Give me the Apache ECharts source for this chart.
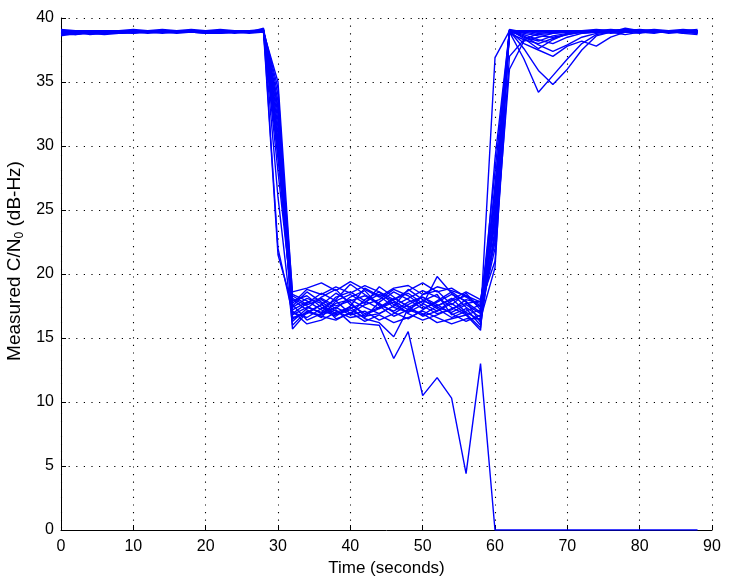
<!DOCTYPE html>
<html>
<head>
<meta charset="utf-8">
<script src="https://cdn.jsdelivr.net/npm/echarts@6/dist/echarts.min.js"></script>
<style>
html,body{margin:0;padding:0;background:#fff;}
#chart{width:745px;height:586px;}
</style>
</head>
<body>
<div id="chart"></div>
<script>
// Time samples (seconds)
const times = [0,2,4,6,8,10,12,14,16,18,20,22,24,26,28,30,32,34,36,38,40,42,44,46,48,50,52,54,56,58,60,62,64,66,68,70,72,74,76,78,80,82,84,86,88];

// Measured C/N0 traces (dB-Hz)
const trace1 = [38.9,38.9,39.0,38.9,39.0,39.0,38.9,39.0,38.9,39.0,38.9,38.9,39.0,38.9,39.1, 34.0, 17.2,17.8,18.1,17.5,17.9,18.3,17.6,17.1,17.8,18.2,17.4,17.0,17.6,16.9, 24.0, 39.0,39.0,38.9,39.0,38.9,39.0,39.0,38.9,39.1,39.0,38.9,39.0,38.9,38.9];
const trace2 = [38.8,38.8,38.8,38.9,38.9,38.9,38.9,39.0,38.9,38.9,39.0,38.9,38.9,38.9,39.0, 33.0, 16.8,17.4,17.0,18.2,18.6,17.9,17.3,18.0,18.5,17.7,17.1,17.9,18.3,17.5, 26.0, 39.1,38.4,37.6,38.3,38.8,38.9,39.0,39.0,38.9,39.0,39.1,39.0,38.9,39.0];
const trace3 = [39.0,38.9,38.7,38.8,38.9,38.9,39.0,39.0,39.0,38.9,38.8,38.9,38.9,39.0,39.0, 32.0, 15.7,17.0,17.6,16.9,17.3,17.8,18.4,17.9,17.2,16.8,17.5,18.1,17.0,16.4, 23.0, 38.9,36.8,34.2,35.5,36.8,38.0,38.7,38.9,39.0,38.9,39.0,38.8,38.9,38.8];
const trace4 = [38.7,38.7,38.9,38.9,38.8,38.9,38.9,39.0,39.0,39.0,38.9,38.9,38.8,38.9,38.9, 31.0, 17.9,18.3,17.4,16.8,17.2,16.6,17.8,18.6,18.0,17.3,17.8,18.4,17.9,16.2, 25.0, 39.0,37.6,35.9,34.8,36.0,37.5,38.6,38.9,39.0,39.0,38.9,39.0,39.0,39.1];
const trace5 = [39.0,39.0,38.9,38.8,38.9,39.0,39.0,39.1,39.0,39.0,39.0,39.0,38.9,38.9,39.2, 30.0, 18.1,17.5,16.9,17.7,18.0,17.4,16.9,17.5,18.1,18.7,18.2,17.4,16.8,17.2, 28.0, 39.0,38.0,37.5,37.0,37.8,38.2,37.8,38.5,38.9,39.0,38.9,39.0,38.8,38.7];
const trace6 = [38.9,38.8,38.9,39.0,38.9,38.8,39.0,38.9,39.0,39.1,39.0,38.9,39.0,39.0,39.0, 29.5, 17.0,16.6,17.3,18.0,19.2,18.4,17.7,17.0,16.5,17.2,17.9,18.6,17.8,17.0, 22.0, 36.0,38.2,38.5,38.8,38.9,39.0,39.0,38.9,39.2,39.0,39.0,38.9,39.0,38.9];
const trace7 = [38.6,38.8,38.9,38.9,39.0,38.9,38.9,38.9,39.0,38.9,38.9,39.0,38.9,38.8,38.9, 35.0, 18.4,17.9,17.2,16.7,17.5,18.9,18.3,17.4,17.0,17.6,19.8,18.5,17.4,16.6, 36.9, 39.0,38.7,38.3,38.0,38.5,38.8,38.9,39.0,39.1,39.0,38.9,39.0,39.1,39.0];
const trace8 = [39.1,39.0,39.0,38.9,38.8,38.9,38.9,38.8,38.9,39.0,39.0,39.0,39.0,38.9,39.0, 34.5, 16.3,17.3,18.2,18.8,17.6,16.9,17.4,18.1,17.5,16.7,17.1,17.7,16.9,15.8, 27.0, 38.8,38.9,39.0,38.9,39.0,38.8,38.9,39.0,39.0,39.1,39.0,38.9,38.9,39.0];
const trace9 = [38.8,38.9,38.8,38.7,38.8,38.9,38.9,39.0,39.0,38.9,38.9,38.9,39.0,39.0,39.0, 28.0, 17.6,16.4,16.9,17.4,16.8,17.1,16.4,16.9,17.6,18.2,17.6,16.9,16.3,16.8, 24.5, 39.0,38.8,38.6,38.5,38.7,38.9,39.0,38.8,38.9,39.0,39.0,38.9,39.0,38.9];
const trace10 = [39.0,38.9,38.9,39.0,39.0,39.1,39.0,38.9,38.9,38.9,38.9,38.9,38.9,39.0,39.1, 22.0, 16.9,17.7,18.5,17.9,16.9,17.6,18.0,18.8,18.3,17.5,16.9,17.2,18.0,17.7, 21.0, 37.0,38.3,38.8,38.9,39.0,39.0,39.1,39.0,38.9,38.8,39.0,39.0,38.9,39.0];
const trace11 = [38.9,38.7,38.8,38.9,38.9,39.0,38.9,38.9,38.9,38.9,39.0,39.1,39.0,38.9,38.9, 21.5, 17.5,18.6,17.8,17.1,16.6,16.8,17.3,17.8,16.9,16.4,16.8,17.3,17.7,17.9, 25.5, 39.0,38.6,37.9,37.4,37.9,38.5,38.8,38.9,39.0,39.0,39.0,38.9,38.9,38.8];
const trace12 = [38.9,38.9,38.9,38.9,39.0,38.9,38.8,38.9,39.0,39.0,39.0,38.9,39.0,39.0,39.0, 31.5, 18.0,17.2,16.6,17.9,18.4,17.7,19.0,18.2,17.4,17.9,18.4,16.8,17.3,16.0, 23.5, 38.9,39.0,38.8,38.9,39.0,39.0,38.9,39.0,39.0,39.0,38.9,39.0,39.0,39.0];
const trace13 = [38.7,38.8,38.9,38.8,38.9,38.9,39.0,38.9,38.9,38.9,38.8,38.8,38.9,38.9,39.0, 33.5, 16.6,16.9,17.6,18.5,17.8,16.7,16.9,17.5,18.8,18.0,17.3,16.6,17.1,17.6, 26.5, 39.1,38.9,39.0,39.0,38.9,38.9,39.0,38.9,38.7,38.9,39.0,39.0,38.8,38.9];
const trace14 = [39.0,39.0,39.0,39.0,38.9,38.9,38.9,38.9,38.8,38.9,38.9,38.9,38.9,38.9,39.0, 30.5, 17.4,18.1,17.7,16.5,16.9,18.0,18.6,17.6,17.0,18.4,18.7,17.6,18.5,17.2, 22.5, 38.8,38.3,38.0,38.4,38.7,38.9,38.9,39.0,39.0,39.0,39.0,38.9,39.0,38.9];
const trace15 = [38.9,38.9,38.8,38.8,38.8,38.9,39.0,39.0,38.9,39.0,39.0,39.0,38.9,38.9,38.9, 32.5, 17.1,16.1,16.4,17.0,17.4,16.5,16.2,15.1,17.3,16.9,16.2,16.5,16.8,15.6, 29.0, 39.0,38.9,38.7,38.8,38.9,39.0,39.0,39.1,39.0,38.9,38.8,39.0,39.0,38.8];
const trace16 = [38.8,38.8,38.9,39.0,39.0,39.0,38.9,38.9,38.9,38.9,38.9,39.0,38.9,39.0,39.0, 29.0, 18.3,17.6,18.0,17.3,18.2,18.7,17.5,16.7,17.2,17.9,17.5,18.0,18.6,18.0, 24.0, 39.0,38.5,38.2,38.6,38.8,38.9,39.0,39.0,38.9,39.0,39.0,39.0,38.9,39.0];
const trace17 = [39.0,38.9,38.9,38.8,38.9,38.9,38.9,39.0,39.0,39.0,38.9,38.8,38.9,38.9,38.9, 26.0, 16.0,17.1,16.7,16.4,17.0,16.3,16.8,16.2,16.6,17.1,16.6,16.1,16.5,16.5, 20.5, 38.9,39.0,39.0,38.9,38.9,39.0,38.9,38.9,39.0,39.0,39.0,39.0,39.0,38.9];
const trace18 = [38.9,39.0,38.9,38.9,38.9,38.8,38.9,38.9,39.0,39.0,38.9,38.9,38.9,39.0,39.0, 30.0, 16.5,17.0,16.8,17.2,16.2,16.1,16.0,13.4,15.5,10.5,11.9,10.3,4.4,13.0, 0, 0,0,0,0,0,0,0,0,0,0,0,0,0,0];
const trace19 = [38.9,38.9,38.9,39.0,39.0,38.9,38.9,38.9,38.9,39.0,38.9,39.0,39.0,38.9,39.0, 33.0, 18.6,18.9,19.3,18.7,19.4,18.8,18.2,18.9,19.1,18.4,19.0,18.7,18.3,17.8, 25.0, 39.0,38.9,39.0,38.9,39.0,39.0,38.9,39.0,39.0,38.9,39.0,38.9,39.0,39.0];
const trace20 = [38.8,38.9,39.0,38.9,38.9,38.9,39.0,39.0,38.9,38.9,38.9,38.9,39.0,39.0,38.9, 30.0, 17.7,18.8,18.4,19.0,18.5,19.1,18.6,18.0,18.7,19.3,18.6,18.9,18.2,17.4, 23.0, 38.9,39.0,38.9,39.0,39.0,38.9,39.0,39.0,39.1,39.0,39.0,39.0,38.9,38.9];

const traces = [trace1,trace2,trace3,trace4,trace5,trace6,trace7,trace8,trace9,trace10,trace11,trace12,trace13,trace14,trace15,trace16,trace17,trace18,trace19,trace20];

const xTicksInterval = 10;
const yTicksInterval = 5;

const chart = echarts.init(document.getElementById('chart'), null, {renderer: 'canvas'});
const font = 'Liberation Sans, Arial, Helvetica, sans-serif';
const dotted = {color: '#000', width: 1.1, type: [1.2, 6.4]};

chart.setOption({
  animation: false,
  backgroundColor: '#fff',
  grid: {left: 61, right: 33, top: 18, bottom: 56, containLabel: false, outerBoundsMode: 'none'},
  xAxis: {
    type: 'value', min: 0, max: 90, interval: xTicksInterval,
    name: 'Time (seconds)', nameLocation: 'middle', nameGap: 27,
    nameTextStyle: {fontFamily: font, fontSize: 17, color: '#000'},
    axisLine: {show: true, onZero: false, lineStyle: {color: '#000', width: 1}},
    axisTick: {show: true, inside: true, length: 5, lineStyle: {color: '#000'}},
    axisLabel: {fontFamily: font, fontSize: 16, color: '#000', margin: 9},
    splitLine: {show: true, lineStyle: dotted}
  },
  yAxis: {
    type: 'value', min: 0, max: 40, interval: yTicksInterval,
    name: '{a|Measured C/N}{s|0}{a| (dB-Hz)}', nameLocation: 'middle', nameGap: 29,
    nameTextStyle: {
      fontFamily: font, fontSize: 19, color: '#000', padding: [0, 0, 0, 26],
      rich: {
        a: {fontFamily: font, fontSize: 19, color: '#000', lineHeight: 22},
        s: {fontFamily: font, fontSize: 12, color: '#000', lineHeight: 11, verticalAlign: 'bottom'}
      }
    },
    axisLine: {show: true, onZero: false, lineStyle: {color: '#000', width: 1}},
    axisTick: {show: true, inside: true, length: 5, lineStyle: {color: '#000'}},
    axisLabel: {fontFamily: font, fontSize: 16, color: '#000', margin: 7},
    splitLine: {show: true, lineStyle: dotted}
  },
  series: traces.map(function (tr) {
    return {
      type: 'line',
      data: times.map(function (t, i) { return [t, tr[i]]; }),
      showSymbol: false,
      symbol: 'none',
      lineStyle: {color: '#0000ff', width: 1.4},
      emphasis: {disabled: true},
      z: 3
    };
  })
});
</script>
</body>
</html>
